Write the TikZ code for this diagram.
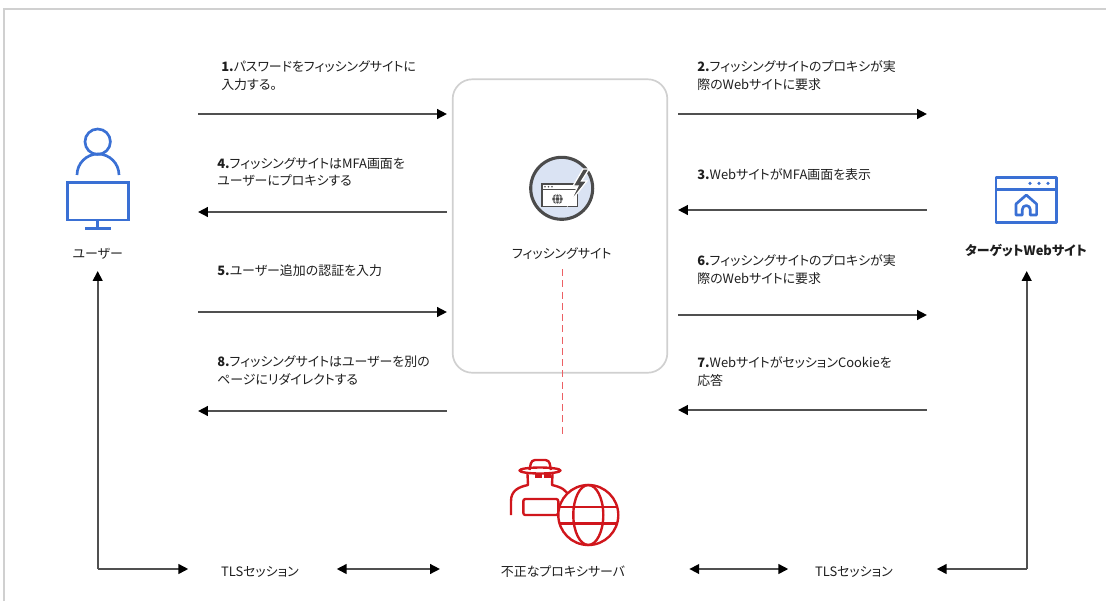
\documentclass[tikz,border=0pt]{standalone}
\usepackage{fontspec}
\setmainfont{Noto Sans CJK JP}[RawFeature=+palt]
\usetikzlibrary{arrows.meta}

\definecolor{userblue}{RGB}{58,112,212}
\definecolor{proxyred}{RGB}{208,22,28}
\definecolor{dashred}{RGB}{236,96,100}
\definecolor{linegray}{RGB}{80,80,80}
\definecolor{boxgray}{RGB}{208,208,208}
\definecolor{iconrim}{RGB}{75,75,75}
\definecolor{iconfill}{RGB}{218,227,243}
\definecolor{textgray}{RGB}{30,30,30}

\tikzset{
    msg/.style={anchor=north west, align=left, inner sep=0pt, text=textgray,
        font=\fontsize{9.2}{12.4}\selectfont},
    caption/.style={inner sep=0pt, text=textgray, font=\fontsize{9.2}{11}\selectfont},
}

\begin{document}
\begin{tikzpicture}[x=0.025cm, y=-0.025cm,
    >={Triangle[length=7pt, width=6.8pt, color=black]},
    every path/.append style={line cap=butt}]
    \useasboundingbox (0,0) rectangle (1106,601);
    \draw[boxgray, line width=1pt] (4,601) -- (4,9) -- (1106,9);

    % user
    \begin{scope}[userblue, line width=1.9pt]
        \draw (97.7,141.7) circle (12.7);
        \draw (77,175) arc[start angle=180, end angle=360, radius=21];
        \draw (67.3,182.7) rectangle (128.3,220);
        \draw (97.7,220) -- (97.7,228.3);
        \draw (85,228.3) -- (110.7,228.3);
    \end{scope}
    \node[caption] (user) at (97.7,254) {ユーザー};

    % phishing site
    \node[draw=boxgray, line width=1.2pt, rounded corners=14pt,
        minimum width=5.365cm, minimum height=7.335cm] (site) at (560,226) {};
    \draw[iconrim, fill=iconfill, line width=2.2pt] (561.7,188.3) circle (31);
    \begin{scope}[iconrim, line width=1.4pt]
        \draw[fill=white] (542,184) rectangle (577.5,206.5);
        \draw (542,189.5) -- (577.5,189.5);
        \foreach \x in {545,548.5,552}
            \fill (\x,186.8) circle (0.9);
        \fill (557.5,199) circle (5.3);
        \draw[white, line width=0.5pt] (552.4,197) -- (562.6,197)
            (552.4,201) -- (562.6,201) (557.5,199) ellipse (2.3 and 5.3);
        \filldraw[draw=white, line width=0.9pt] (583,169) -- (573,186) -- (578,186)
            -- (569.5,203) -- (587,181) -- (581.5,181) -- (589,169) -- cycle;
    \end{scope}
    \node[caption] (sitelbl) at (561.7,254) {フィッシングサイト};
    \draw[dashred, line width=1.1pt, dash pattern=on 5pt off 3pt] (562.3,269) -- (562.3,437);

    % target web site
    \begin{scope}[userblue, line width=1.9pt, line join=round]
        \draw (996,177.3) rectangle (1056.7,222.7);
        \draw (996,189.3) -- (1056.7,189.3);
        \foreach \x in {1030,1039,1048}
            \fill (\x,183.4) circle (1.8);
        \draw (1016,215) -- (1016,204) -- (1026.3,195) -- (1036.6,204) -- (1036.6,215)
            -- (1030.3,215) -- (1030.3,209.5) arc[start angle=0, end angle=-180, radius=4]
            -- (1022.3,215) -- cycle;
    \end{scope}
    \node[caption, font=\fontsize{9.2}{11}\selectfont\bfseries] (target) at (1026,251) {ターゲットWebサイト};

    % rogue proxy
    \begin{scope}[proxyred, line width=1.7pt, line join=round]
        \draw (511,515) -- (511,501) .. controls (511,491) and (518,487) .. (528,485)
            -- (527.5,474);
        \draw (552.5,474) -- (552,485) .. controls (561,487) and (567,490) .. (569,497);
        \draw[rounded corners=2.5pt] (529.5,470) -- (531.5,460) -- (549,460) -- (551,470);
        \draw (540,470.5) ellipse (20.5 and 3);
        \fill (534.5,473.5) rectangle (541.5,477.5);
        \fill (543.5,473.5) rectangle (550.5,477.5);
        \draw[fill=white, rounded corners=1.5pt] (523.3,499) rectangle (558.3,515);
        \draw[fill=white] (588.3,515) circle (30);
        \draw (588.3,515) ellipse (15 and 30);
        \draw (559.5,506.7) -- (617.1,506.7) (559.5,523.3) -- (617.1,523.3);
    \end{scope}
    \node[caption] (proxy) at (563,571.7) {不正なプロキシサーバ};

    % messages
    \foreach \n/\y in {1/114,4/212,5/312,8/411}{
        \coordinate (u\n) at (198,\y);
        \coordinate (p\n) at (447,\y);
    }
    \foreach \n/\y in {2/114,3/210,6/315,7/410}{
        \coordinate (q\n) at (678,\y);
        \coordinate (w\n) at (927,\y);
    }
    \begin{scope}[linegray, line width=1.5pt]
        \draw[->] (u1) -- (p1);
        \draw[<-] (u4) -- (p4);
        \draw[->] (u5) -- (p5);
        \draw[<-] (u8) -- (p8);
        \draw[->] (q2) -- (w2);
        \draw[<-] (q3) -- (w3);
        \draw[->] (q6) -- (w6);
        \draw[<-] (q7) -- (w7);
    \end{scope}

    \node[msg] (m1) at (221,60.5) {{\bfseries 1.}パスワードをフィッシングサイトに\\入力する。};
    \node[msg] (m4) at (217,157) {{\bfseries 4.}フィッシングサイトはMFA画面を\\ユーザーにプロキシする};
    \node[msg] (m5) at (217,264) {{\bfseries 5.}ユーザー追加の認証を入力};
    \node[msg] (m8) at (217,355.5) {{\bfseries 8.}フィッシングサイトはユーザーを別の\\ページにリダイレクトする};
    \node[msg] (m2) at (697,60.5) {{\bfseries 2.}フィッシングサイトのプロキシが実\\際のWebサイトに要求};
    \node[msg] (m3) at (697,168.2) {{\bfseries 3.}WebサイトがMFA画面を表示};
    \node[msg] (m6) at (697,254.5) {{\bfseries 6.}フィッシングサイトのプロキシが実\\際のWebサイトに要求};
    \node[msg] (m7) at (697,356.5) {{\bfseries 7.}WebサイトがセッションCookieを\\応答};

    % TLS sessions
    \node[caption] (tlsL) at (260,571.7) {TLSセッション};
    \node[caption] (tlsR) at (854,571.7) {TLSセッション};
    \coordinate (ucorner) at (97.7,569);
    \coordinate (uup) at (97.7,271);
    \coordinate (uend) at (188.3,569);
    \coordinate (tcorner) at (1026.7,569);
    \coordinate (tup) at (1026.7,271);
    \coordinate (tend) at (936.7,569);
    \coordinate (la) at (336.7,569);
    \coordinate (lb) at (440,569);
    \coordinate (ra) at (689.3,569);
    \coordinate (rb) at (788.3,569);
    \begin{scope}[linegray, line width=1.5pt]
        \draw[->] (ucorner) -- (uup);
        \draw[->] (ucorner) -- (uend);
        \draw[->] (tcorner) -- (tup);
        \draw[->] (tcorner) -- (tend);
        \draw[<->] (la) -- (lb);
        \draw[<->] (ra) -- (rb);
    \end{scope}
\end{tikzpicture}
\end{document}
